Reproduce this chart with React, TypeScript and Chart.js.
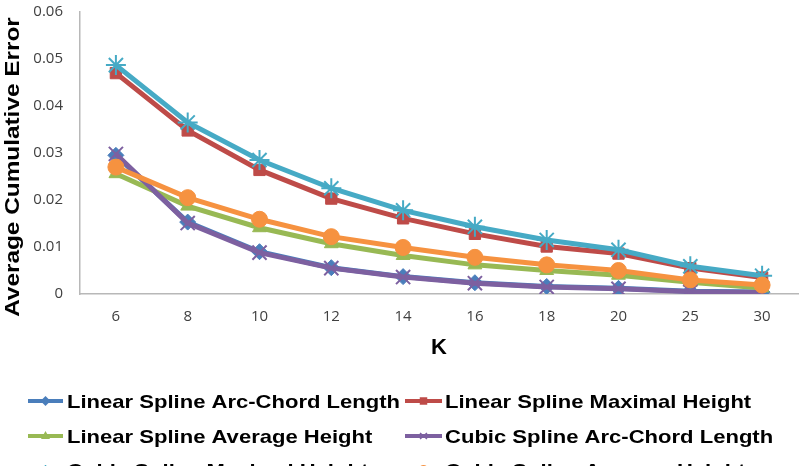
import React, { useEffect, useRef } from "react";
import { Chart, registerables } from "chart.js";

Chart.register(...registerables);

// K values along the horizontal axis
const kLabels = ["6", "8", "10", "12", "14", "16", "18", "20", "25", "30"];

// Average cumulative error per method
const linearArcChord = [0.0295, 0.0153, 0.009, 0.0056, 0.0037, 0.0024, 0.0016, 0.0012, 0.0006, 0.0004];
const linearMaxHeight = [0.047, 0.0348, 0.0264, 0.0203, 0.0161, 0.0128, 0.0101, 0.0086, 0.0055, 0.0035];
const linearAvgHeight = [0.0256, 0.0187, 0.0141, 0.0107, 0.0082, 0.0062, 0.005, 0.004, 0.0025, 0.0013];
const cubicArcChord = [0.0298, 0.0151, 0.0088, 0.0055, 0.0036, 0.0023, 0.0015, 0.0011, 0.0005, 0.0003];
const cubicMaxHeight = [0.0487, 0.0365, 0.0285, 0.0225, 0.0178, 0.0143, 0.0115, 0.0094, 0.0059, 0.0039];
const cubicAvgHeight = [0.027, 0.0205, 0.0159, 0.0122, 0.0099, 0.0078, 0.0062, 0.005, 0.003, 0.0019];

const seriesNames = [
  "Linear Spline Arc-Chord Length",
  "Linear Spline Maximal Height",
  "Linear Spline Average Height",
  "Cubic Spline Arc-Chord Length",
  "Cubic Spline Maximal Height",
  "Cubic Spline Average Height",
];

const yTitle = "Average Cumulative Error";
const xTitle = "K";

type Marker = "rectRot" | "rect" | "triangle" | "crossRot" | "star" | "circle";

const seriesStyles: { color: string; marker: Marker; radius: number }[] = [
  { color: "#4A7EBB", marker: "rectRot", radius: 8 },
  { color: "#BE4B48", marker: "rect", radius: 8 },
  { color: "#98B954", marker: "triangle", radius: 8 },
  { color: "#7D60A0", marker: "crossRot", radius: 10 },
  { color: "#46AAC5", marker: "star", radius: 10 },
  { color: "#F69240", marker: "circle", radius: 8 },
];

const seriesData = [linearArcChord, linearMaxHeight, linearAvgHeight, cubicArcChord, cubicMaxHeight, cubicAvgHeight];

const BOLD = "bold 19px 'Liberation Sans', Arial, sans-serif";
const STRETCH = 1.16;

function drawMarker(ctx: CanvasRenderingContext2D, m: Marker, x: number, y: number, r: number, color: string) {
  ctx.save();
  ctx.fillStyle = color;
  ctx.strokeStyle = color;
  ctx.lineWidth = 1.5;
  ctx.beginPath();
  if (m === "rectRot") {
    ctx.moveTo(x, y - r);
    ctx.lineTo(x + r, y);
    ctx.lineTo(x, y + r);
    ctx.lineTo(x - r, y);
    ctx.closePath();
    ctx.fill();
  } else if (m === "rect") {
    ctx.rect(x - r * 0.75, y - r * 0.75, r * 1.5, r * 1.5);
    ctx.fill();
  } else if (m === "triangle") {
    ctx.moveTo(x, y - r);
    ctx.lineTo(x + r * 0.9, y + r * 0.6);
    ctx.lineTo(x - r * 0.9, y + r * 0.6);
    ctx.closePath();
    ctx.fill();
  } else if (m === "crossRot") {
    ctx.moveTo(x - r * 0.7, y - r * 0.6);
    ctx.lineTo(x + r * 0.7, y + r * 0.6);
    ctx.moveTo(x + r * 0.7, y - r * 0.6);
    ctx.lineTo(x - r * 0.7, y + r * 0.6);
    ctx.stroke();
  } else if (m === "star") {
    ctx.moveTo(x - r * 0.7, y - r * 0.6);
    ctx.lineTo(x + r * 0.7, y + r * 0.6);
    ctx.moveTo(x + r * 0.7, y - r * 0.6);
    ctx.lineTo(x - r * 0.7, y + r * 0.6);
    ctx.moveTo(x, y - r);
    ctx.lineTo(x, y + r);
    ctx.stroke();
  } else {
    ctx.arc(x, y, r, 0, Math.PI * 2);
    ctx.fill();
  }
  ctx.restore();
}

function stretchedText(ctx: CanvasRenderingContext2D, text: string, x: number, y: number, rot = 0) {
  ctx.save();
  ctx.translate(x, y);
  if (rot) ctx.rotate(rot);
  ctx.scale(STRETCH, 1);
  ctx.fillText(text, 0, 0);
  ctx.restore();
}

// Axis titles and the two-column legend beneath the plot
const annotationsPlugin = {
  id: "annotations",
  afterDraw(chart: Chart) {
    const ctx = chart.ctx;
    const area = chart.chartArea;
    ctx.save();
    ctx.fillStyle = "#000";
    ctx.font = "bold 21px 'Liberation Sans', Arial, sans-serif";
    ctx.textAlign = "center";
    ctx.textBaseline = "middle";
    stretchedText(ctx, yTitle, 13, 167, -Math.PI / 2);
    ctx.font = "bold 22px 'Liberation Sans', Arial, sans-serif";
    ctx.fillText(xTitle, (area.left + area.right) / 2, 348);

    ctx.font = BOLD;
    ctx.textAlign = "left";
    ctx.textBaseline = "alphabetic";
    const cols = [
      { x1: 28, x2: 63, tx: 67 },
      { x1: 405, x2: 442, tx: 445 },
    ];
    const baselines = [408, 443, 477];
    seriesNames.forEach((name, i) => {
      const c = cols[i % 2];
      const base = baselines[Math.floor(i / 2)];
      const cy = base - 7;
      const st = seriesStyles[i];
      ctx.strokeStyle = st.color;
      ctx.lineWidth = 4;
      ctx.beginPath();
      ctx.moveTo(c.x1, cy);
      ctx.lineTo(c.x2, cy);
      ctx.stroke();
      drawMarker(ctx, st.marker, (c.x1 + c.x2) / 2, cy, 5, st.color);
      ctx.fillStyle = "#000";
      stretchedText(ctx, name, c.tx, base);
    });
    ctx.restore();
  },
};

export default function App() {
  const canvasRef = useRef<HTMLCanvasElement | null>(null);

  useEffect(() => {
    const canvas = canvasRef.current;
    if (!canvas) return;
    const chart = new Chart(canvas, {
      type: "line",
      data: {
        labels: kLabels,
        datasets: seriesNames.map((name, i) => ({
          label: name,
          data: seriesData[i],
          borderColor: seriesStyles[i].color,
          backgroundColor: seriesStyles[i].color,
          pointBackgroundColor: seriesStyles[i].color,
          pointBorderColor: seriesStyles[i].color,
          pointBorderWidth: seriesStyles[i].marker === "crossRot" || seriesStyles[i].marker === "star" ? 2 : 1,
          pointStyle: seriesStyles[i].marker,
          pointRadius: seriesStyles[i].radius,
          borderWidth: 5,
          tension: 0,
          fill: false,
          order: 6 - i,
        })),
      },
      options: {
        responsive: false,
        devicePixelRatio: 1,
        animation: false,
        layout: { padding: { top: 8, right: 4, left: 0, bottom: 0 } },
        plugins: {
          legend: { display: false },
          tooltip: { enabled: false },
        },
        scales: {
          x: {
            type: "category",
            offset: true,
            grid: { display: false, drawTicks: false },
            border: { display: true, color: "#B8B8B8", width: 1.5 },
            ticks: {
              padding: 14,
              color: "#404040",
              font: { family: "'Open Sans', sans-serif", size: 15 },
              maxRotation: 0,
            },
            afterFit(scale: any) {
              scale.height = 172;
              scale.paddingLeft = 0;
              scale.paddingRight = 0;
            },
          },
          y: {
            min: 0,
            max: 0.06,
            grid: { display: false, drawTicks: false },
            border: { display: true, color: "#B8B8B8", width: 1.5 },
            ticks: {
              stepSize: 0.01,
              padding: 17,
              color: "#404040",
              font: { family: "'Open Sans', sans-serif", size: 15 },
              callback: (v: any) => (Number(v) === 0 ? "0" : Number(v).toFixed(2)),
            },
            afterFit(scale: any) {
              scale.width = 80;
              scale.paddingTop = 0;
              scale.paddingBottom = 0;
            },
          },
        },
      },
      plugins: [annotationsPlugin],
    });
    return () => chart.destroy();
  }, []);

  return (
    <div style={{ position: "fixed", left: 0, top: 0, width: 810, height: 466, background: "#fff", overflow: "hidden" }}>
      <canvas ref={canvasRef} width={810} height={466} />
    </div>
  );
}
